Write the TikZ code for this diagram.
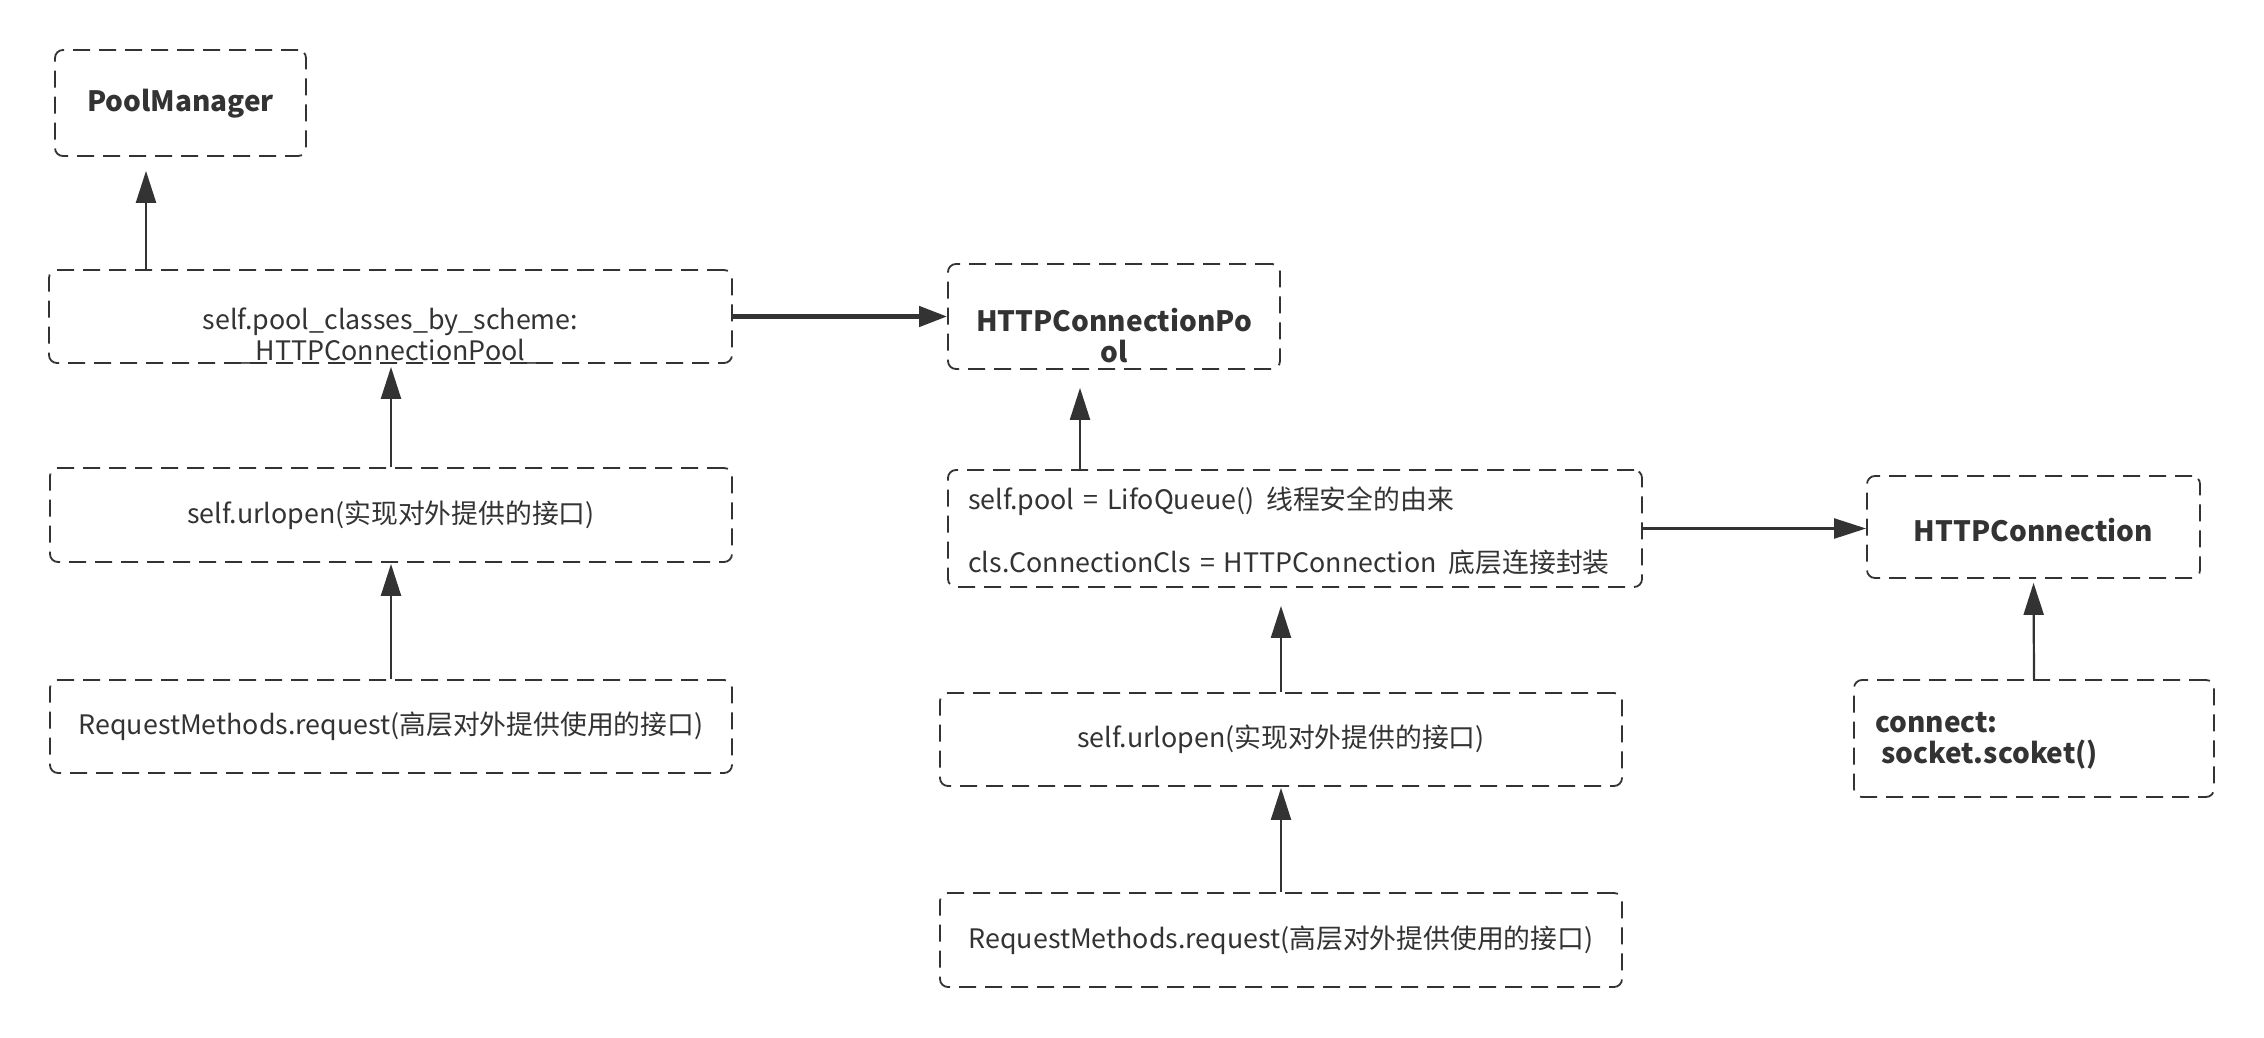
\documentclass[tikz,border=0pt]{standalone}
\usepackage{fontspec}
\setmainfont{Noto Sans CJK SC}
\usetikzlibrary{arrows.meta}
\definecolor{dk}{HTML}{333333}
\newcommand{\eqsp}{\hspace{9pt}=\hspace{9pt}}
\begin{document}
\begin{tikzpicture}[x=1pt,y=-1pt,
  box/.style={draw=dk, line width=1.8pt, dash pattern=on 17pt off 9pt, rounded corners=8pt, inner sep=0pt, text=dk, font=\fontsize{26.8}{31}\selectfont},
  txt/.style={text=dk, inner sep=0pt, font=\fontsize{26.8}{31}\selectfont},
  btxt/.style={text=dk, inner sep=0pt, font=\fontsize{28}{31}\selectfont\bfseries},
  arr/.style={draw=dk, line width=2.2pt, -{Triangle[length=32pt,width=20pt]}},
  tarr/.style={draw=dk, line width=4.5pt, -{Triangle[length=28pt,width=20pt]}}]
\fill[white] (0,0) rectangle (2264,1038);
\useasboundingbox (0,0) rectangle (2264,1038);
% left column
\node[box, minimum width=251pt, minimum height=106pt] (pm) at (180.5,103) {};
\node[btxt] (pmT) at (180.5,104) {PoolManager};
\node[box, minimum width=683pt, minimum height=93pt] (pcs) at (390.5,316.5) {};
\node[txt, align=center] (pcsT) at (390.5,336) {self.pool\_classes\_by\_scheme:\\\_HTTPConnectionPool\_};
\node[box, minimum width=682pt, minimum height=94pt] (url1) at (391,515) {self.urlopen(实现对外提供的接口)};
\node[box, minimum width=682pt, minimum height=93pt] (req1) at (391,726.5) {RequestMethods.request(高层对外提供使用的接口)};
% middle column
\node[box, minimum width=332pt, minimum height=105pt] (hcp) at (1114,316.5) {};
\node[btxt, align=center] (hcpT) at (1114,336) {HTTPConnectionPo\\ol};
\node[box, minimum width=694pt, minimum height=117pt] (pool) at (1295,528.5) {};
\node[txt, align=left, anchor=west] (poolT) at (968,531) {self.pool\eqsp LifoQueue()\hspace{12pt}线程安全的由来\\[32pt]cls.ConnectionCls\eqsp HTTPConnection\hspace{12pt}底层连接封装};
\node[box, minimum width=682pt, minimum height=93pt] (url2) at (1281,739.5) {self.urlopen(实现对外提供的接口)};
\node[box, minimum width=682pt, minimum height=94pt] (req2) at (1281,940) {RequestMethods.request(高层对外提供使用的接口)};
% right column
\node[box, minimum width=333pt, minimum height=102pt] (hc) at (2033.5,527) {};
\node[btxt] (hcT) at (2033.5,530) {HTTPConnection};
\node[box, minimum width=360pt, minimum height=117pt] (conn) at (2034,738.5) {};
\node[btxt, align=left, anchor=west] (connT) at (1875,741) {connect:\\\ socket.scoket()};
% connectors
\draw[arr, shorten >=14pt] ([xshift=-34.5pt]pm.south |- pcs.north) -- ([xshift=-34.5pt]pm.south);
\draw[tarr] (pcs.east) -- (hcp.west);
\draw[arr, shorten >=3pt] (url1.north) -- (url1.north |- pcs.south);
\draw[arr, shorten >=1pt] (req1.north) -- (url1.south);
\draw[arr, shorten >=18pt] ([xshift=-215pt]pool.north) -- ([xshift=-215pt]pool.north |- hcp.south);
\draw[arr, shorten >=18pt] (url2.north) -- (url2.north |- pool.south);
\draw[arr, shorten >=1pt] (req2.north) -- (url2.south);
\draw[arr] (pool.east) -- (pool.east -| hc.west);
\draw[arr, shorten >=4pt] (conn.north) -- (hc.south);
\end{tikzpicture}
\end{document}
